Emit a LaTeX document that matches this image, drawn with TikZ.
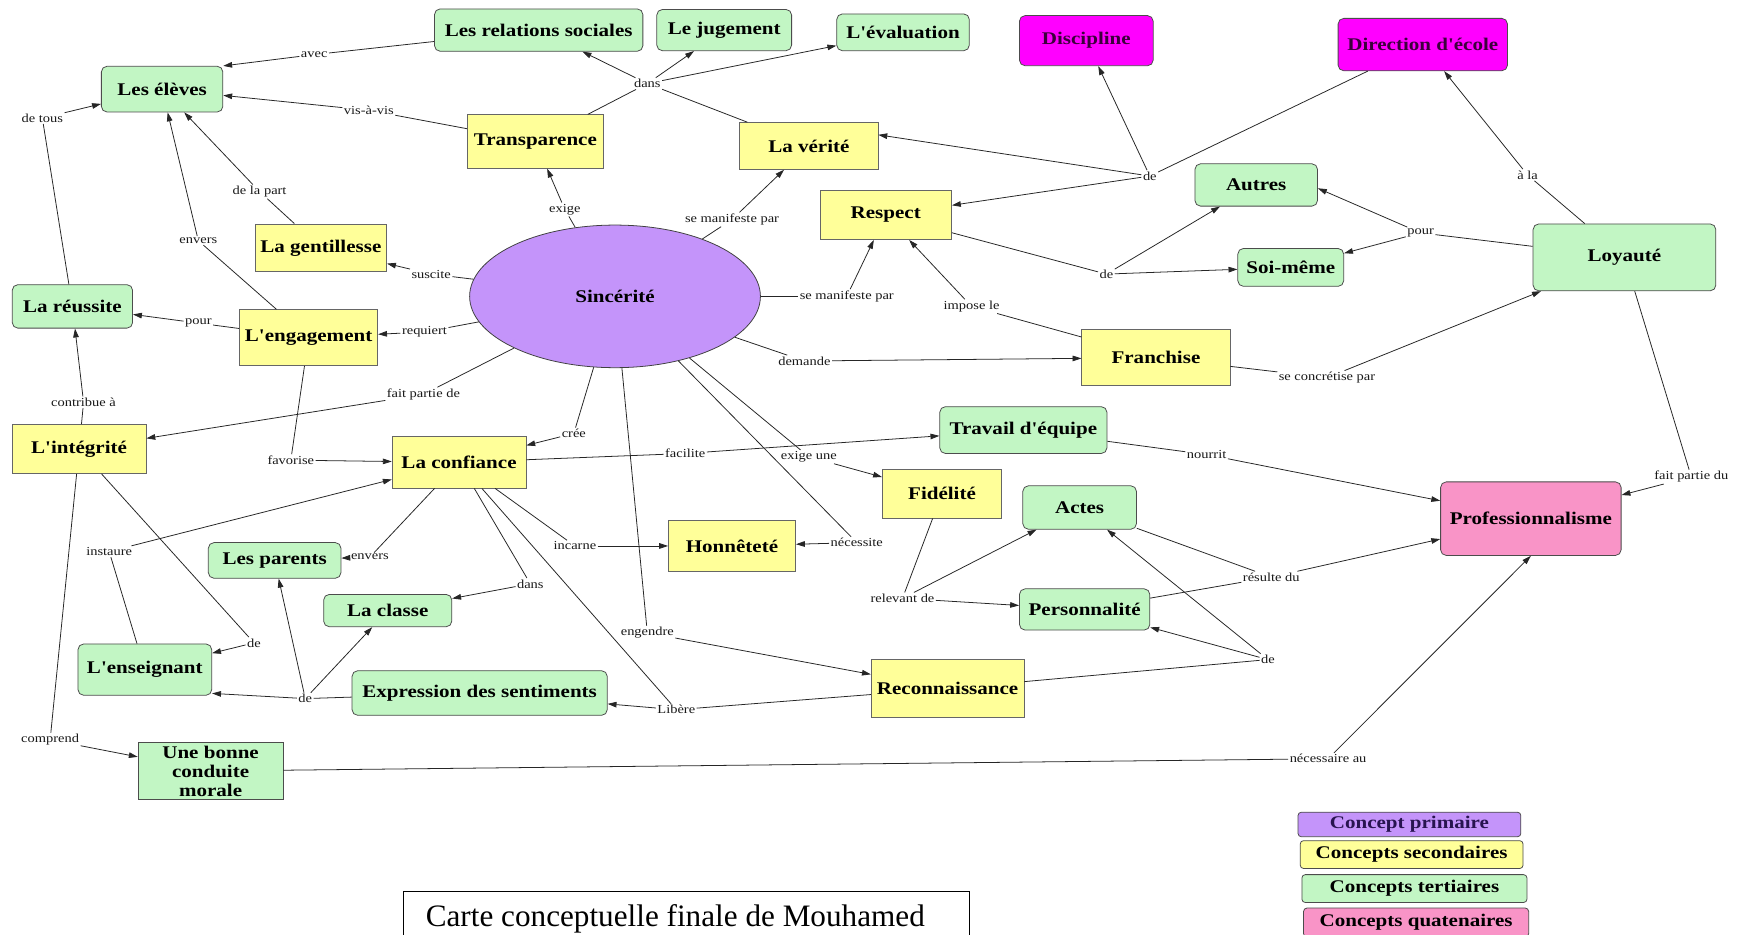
\documentclass[tikz,border=0pt]{standalone}
\usepackage{fontspec}
\usetikzlibrary{arrows.meta,shapes.geometric}
\newfontfamily\mapfont{Liberation Serif}[FakeStretch=1.18]
\newfontfamily\titlefont{Liberation Serif}
\definecolor{tertgreen}{RGB}{194,246,196}
\definecolor{secyellow}{RGB}{255,255,153}
\definecolor{quatpink}{RGB}{249,148,199}
\definecolor{primpurple}{RGB}{196,148,250}
\definecolor{magentabox}{RGB}{255,0,255}
\definecolor{darkplum}{RGB}{60,0,60}
\newcommand\conceptfont{\mapfont\bfseries\fontsize{16}{17}\selectfont}
\newcommand\linkfont{\mapfont\fontsize{11}{12}\selectfont}
\tikzset{
  conn/.style={draw=black!85, line width=0.7pt},
  arr/.style={conn, -{Triangle[length=8pt,width=5pt]}},
  lbl/.style={font=\linkfont, inner sep=1.2pt, text=black!90},
  cbox/.style={draw=black!70, line width=0.7pt, font=\conceptfont, align=center, inner sep=0pt, text=black},
  tert/.style={cbox, fill=tertgreen, rounded corners=5pt},
  sec/.style={cbox, fill=secyellow, draw=black!60},
  quat/.style={cbox, fill=quatpink, rounded corners=5pt},
  admin/.style={cbox, fill=magentabox, rounded corners=5pt, text=darkplum},
  legendbox/.style={cbox, rounded corners=3pt, minimum width=200pt, minimum height=24pt},
  sz/.style 2 args={minimum width=#1pt, minimum height=#2pt}
}
\begin{document}
\begin{tikzpicture}[x=1pt,y=-1pt]
\useasboundingbox (0,0) rectangle (1568,839);
\fill[white] (0,0) rectangle (1568,839);

% concepts
\node[tert, sz={187}{38}] (rel) at (483.5,27) {Les relations sociales};
\node[tert, sz={121}{37}] (jug) at (650,27) {Le jugement};
\node[tert, sz={119}{33}] (eval) at (810.5,29) {L'évaluation};
\node[admin, sz={120}{45}] (disc) at (975,36.5) {Discipline};
\node[admin, sz={152}{47}] (dir) at (1277,40) {Direction d'école};
\node[tert, sz={109}{41}] (elev) at (145.5,80) {Les élèves};
\node[sec, sz={122}{48}] (transp) at (480.5,127) {Transparence};
\node[sec, sz={124}{42}] (verite) at (726,131) {La vérité};
\node[sec, sz={118}{44}] (respect) at (795,193) {Respect};
\node[tert, sz={110}{38}] (autres) at (1127.5,166) {Autres};
\node[tert, sz={95}{34}] (soi) at (1158.5,240) {Soi-même};
\node[tert, sz={164}{60}] (loy) at (1458,231) {Loyauté};
\node[sec, sz={118}{43}] (gent) at (288,222.5) {La gentillesse};
\node[ellipse, draw=black!75, line width=0.7pt, fill=primpurple, font=\conceptfont,
      minimum width=261pt, minimum height=128pt, inner sep=0pt] (sinc) at (552,266) {Sincérité};
\node[tert, sz={108}{39}] (reuss) at (65,275) {La réussite};
\node[sec, sz={124}{50}] (engag) at (277,303) {L'engagement};
\node[sec, sz={120}{44}] (integ) at (71,403) {L'intégrité};
\node[sec, sz={120}{46}] (conf) at (412,415) {La confiance};
\node[tert, sz={119}{32}] (parents) at (246.5,503) {Les parents};
\node[tert, sz={115}{29}] (classe) at (348,548) {La classe};
\node[tert, sz={120}{46}] (ens) at (130,601) {L'enseignant};
\node[tert, sz={229}{40}] (expr) at (430.5,622) {Expression des sentiments};
\node[tert, rounded corners=0pt, sz={130}{51}] (morale) at (189,692) {Une bonne\\conduite\\morale};
\node[sec, sz={114}{46}] (honn) at (657,490) {Honnêteté};
\node[tert, sz={150}{42}] (trav) at (918.5,386) {Travail d'équipe};
\node[sec, sz={107}{44}] (fid) at (845.5,443) {Fidélité};
\node[tert, sz={102}{39}] (actes) at (969,455.5) {Actes};
\node[tert, sz={117}{37}] (pers) at (973.5,547) {Personnalité};
\node[sec, sz={133}{50}] (franch) at (1037.5,321) {Franchise};
\node[quat, sz={162}{66}] (prof) at (1374,465.5) {Professionnalisme};
\node[sec, sz={137}{52}] (reco) at (850.5,618) {Reconnaissance};

% linking phrases
\node[lbl] (lavec) at (282,49) {avec};
\node[lbl] (lvav) at (331,99) {vis-à-vis};
\node[lbl] (ldetous) at (38,106) {de tous};
\node[lbl] (ldelapart) at (233,172) {de la part};
\node[lbl] (lenversA) at (178,216) {envers};
\node[lbl] (lexige) at (507,188) {exige};
\node[lbl] (lsuscite) at (387,246) {suscite};
\node[lbl] (ldansA) at (581,75) {dans};
\node[lbl] (lsmpA) at (657,197) {se manifeste par};
\node[lbl] (ldeA) at (1032,158) {de};
\node[lbl] (ldeB) at (993,246) {de};
\node[lbl] (lsmpB) at (760,266) {se manifeste par};
\node[lbl] (limpose) at (872,275) {impose le};
\node[lbl] (lpourA) at (1275,209) {pour};
\node[lbl] (lala) at (1371,157) {à la};
\node[lbl] (lpourB) at (178,290) {pour};
\node[lbl] (lrequiert) at (381,298) {requiert};
\node[lbl] (lcontrib) at (75,361) {contribue à};
\node[lbl] (lfpde) at (380,354) {fait partie de};
\node[lbl] (lcree) at (515,389) {crée};
\node[lbl] (lfavorise) at (261,413) {favorise};
\node[lbl] (linstaure) at (98,495) {instaure};
\node[lbl] (lenversB) at (332,500) {envers};
\node[lbl] (lincarne) at (516,490) {incarne};
\node[lbl] (ldansB) at (476,524) {dans};
\node[lbl] (ldeC) at (228,577) {de};
\node[lbl] (ldeD) at (274,627) {de};
\node[lbl] (lcomprend) at (45,664) {comprend};
\node[lbl] (ldemande) at (722,324) {demande};
\node[lbl] (lfacilite) at (615,407) {facilite};
\node[lbl] (lexigeune) at (726,410) {exige une};
\node[lbl] (lnecessite) at (769,487) {nécessite};
\node[lbl] (lrelevant) at (810,537) {relevant de};
\node[lbl] (lconcret) at (1191,339) {se concrétise par};
\node[lbl] (lnourrit) at (1083,408) {nourrit};
\node[lbl] (lfpdu) at (1518,428) {fait partie du};
\node[lbl] (lresulte) at (1141,518) {résulte du};
\node[lbl] (lengendre) at (581,568) {engendre};
\node[lbl] (llibere) at (607,637) {Libère};
\node[lbl] (ldeE) at (1138,592) {de};
\node[lbl] (lnecessaire) at (1192,681) {nécessaire au};

% connectors
\draw[conn] (rel) -- (lavec);       \draw[arr] (lavec) -- (elev.north east);
\draw[conn] (transp) -- (lvav);     \draw[arr] (lvav) -- (elev);
\draw[conn] (reuss) -- (ldetous);   \draw[arr] (ldetous) -- (elev);
\draw[conn] (gent) -- (ldelapart);  \draw[arr] (ldelapart) -- (elev);
\draw[conn] (engag) -- (lenversA);  \draw[arr] (lenversA) -- (elev);
\draw[conn] (sinc) -- (lexige);     \draw[arr] (lexige) -- (transp);
\draw[conn] (sinc) -- (lsuscite);   \draw[arr] (lsuscite) -- (gent);
\draw[conn] (transp) -- (ldansA);   \draw[conn] (verite) -- (ldansA);
\draw[arr] (ldansA) -- (rel);       \draw[arr] (ldansA) -- (jug);
\draw[arr] (ldansA) -- (eval);
\draw[conn] (sinc) -- (lsmpA);      \draw[arr] (lsmpA) -- (verite);
\draw[conn] (dir) -- (ldeA);        \draw[arr] (ldeA) -- (disc);
\draw[arr] (ldeA) -- ([yshift=10pt]verite.east);
\draw[arr] (ldeA) -- (respect);
\draw[conn] (respect) -- (ldeB);    \draw[arr] (ldeB) -- (autres);
\draw[arr] (ldeB) -- (soi);
\draw[conn] (sinc) -- (lsmpB);      \draw[arr] (lsmpB) -- (respect);
\draw[conn] (franch) -- (limpose);  \draw[arr] (limpose) -- (respect);
\draw[conn] (loy) -- (lpourA);      \draw[arr] (lpourA) -- ([yshift=-3pt]autres.east);
\draw[arr] (lpourA) -- (soi);
\draw[conn] (loy) -- (lala);        \draw[arr] (lala) -- (dir);
\draw[conn] (engag) -- (lpourB);    \draw[arr] (lpourB) -- (reuss);
\draw[conn] (sinc) -- (lrequiert);  \draw[arr] (lrequiert) -- (engag);
\draw[conn] (integ) -- (lcontrib);  \draw[arr] (lcontrib) -- (reuss);
\draw[conn] (sinc) -- (lfpde);      \draw[arr] (lfpde) -- (integ);
\draw[conn] (sinc) -- (lcree);      \draw[arr] (lcree) -- (conf);
\draw[conn] (engag) -- (lfavorise); \draw[arr] (lfavorise) -- (conf);
\draw[conn] (ens) -- (linstaure);   \draw[arr] (linstaure) -- (conf);
\draw[conn] (conf) -- (lenversB);   \draw[arr] (lenversB) -- (parents);
\draw[conn] (conf) -- (lincarne);   \draw[arr] (lincarne) -- (honn);
\draw[conn] (conf) -- (ldansB);     \draw[arr] (ldansB) -- (classe);
\draw[conn] (integ) -- (ldeC);      \draw[arr] (ldeC) -- (ens);
\draw[conn] (expr) -- (ldeD);       \draw[arr] (ldeD) -- ([yshift=2pt]ens.south east);
\draw[arr] (ldeD) -- (classe);      \draw[arr] (ldeD) -- (parents);
\draw[conn] (integ) -- (lcomprend); \draw[arr] (lcomprend) -- (morale);
\draw[conn] (sinc) -- (ldemande);   \draw[arr] (ldemande) -- (franch);
\draw[conn] (conf) -- (lfacilite);  \draw[arr] (lfacilite) -- (trav);
\draw[conn] (sinc) -- (lexigeune);  \draw[arr] (lexigeune) -- (fid);
\draw[conn] (sinc) -- (lnecessite); \draw[arr] (lnecessite) -- (honn);
\draw[conn] (fid) -- (lrelevant);   \draw[arr] (lrelevant) -- (actes);
\draw[arr] (lrelevant) -- (pers);
\draw[conn] (franch) -- (lconcret); \draw[arr] (lconcret) -- (loy);
\draw[conn] (trav) -- (lnourrit);   \draw[arr] (lnourrit) -- (prof);
\draw[conn] (loy) -- (lfpdu);       \draw[arr] (lfpdu) -- (prof);
\draw[conn] (actes) -- (lresulte);  \draw[conn] (pers) -- (lresulte);
\draw[arr] (lresulte) -- (prof);
\draw[conn] (sinc) -- (lengendre);  \draw[arr] (lengendre) -- (reco);
\draw[conn] (reco) -- (llibere);    \draw[conn] (conf) -- (llibere);
\draw[arr] (llibere) -- (expr);
\draw[conn] (reco) -- (ldeE);       \draw[arr] (ldeE) -- (actes);
\draw[arr] (ldeE) -- (pers);
\draw[conn] (morale) -- (lnecessaire); \draw[arr] (lnecessaire) -- (prof.south);

% legend
\node[legendbox, fill=primpurple, minimum height=22pt, text={rgb,255:red,40;green,20;blue,80}] (legA) at (1265,740) {Concept primaire};
\node[legendbox, fill=secyellow, minimum height=25pt] (legB) at (1267,767) {Concepts secondaires};
\node[legendbox, fill=tertgreen, minimum height=25pt, minimum width=202pt] (legC) at (1269.5,797.5) {Concepts tertiaires};
\node[legendbox, fill=quatpink, minimum height=26pt, minimum width=202pt] (legD) at (1271,828) {Concepts quatenaires};

% title
\draw[line width=1.2pt] (362,800) rectangle (870,870);
\node[anchor=base west, inner sep=0pt, font=\titlefont\fontsize{28}{30}\selectfont] (title) at (382,831.5) {Carte conceptuelle finale de Mouhamed};
\end{tikzpicture}
\end{document}
